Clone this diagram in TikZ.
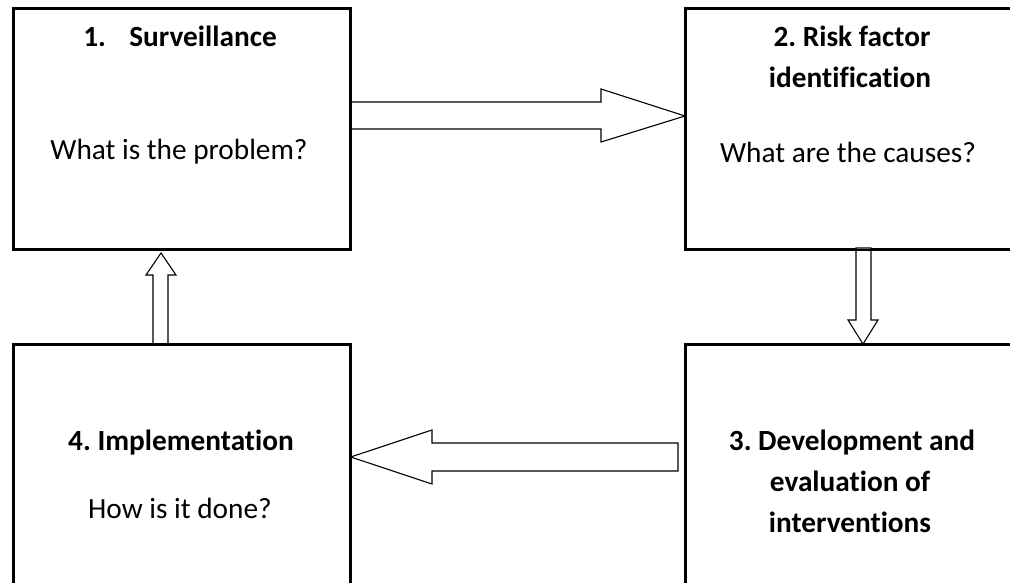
\documentclass[tikz,border=0pt]{standalone}
\usepackage{fontspec}
\setmainfont[Ligatures=NoCommon]{Carlito}
\frenchspacing
\begin{document}
\begin{tikzpicture}[x=1pt,y=-1pt,
  box/.style={draw=black,line width=1.7pt,fill=none,inner sep=0pt,anchor=north west},
  blockarrow/.style={draw=black,line width=1.1pt,fill=white,line join=miter},
  ttl/.style={font=\fontsize{29.3}{33}\selectfont\bfseries,anchor=base,inner sep=0pt},
  txt/.style={font=\fontsize{29.3}{33}\selectfont,anchor=base,inner sep=0pt}]
\useasboundingbox (0,0) rectangle (1010,583);
\clip (0,0) rectangle (1010,583);
% boxes
\node[box,minimum width=336pt,minimum height=240pt] (b1) at (13,8) {};
\node[box,minimum width=332pt,minimum height=240pt] (b2) at (685,8) {};
\node[box,minimum width=332pt,minimum height=260pt] (b3) at (685,344) {};
\node[box,minimum width=336pt,minimum height=260pt] (b4) at (13,344) {};
% texts
\node[ttl] (t1) at (180,47) {1.\hspace{0.8em}Surveillance};
\node[txt] (q1) at (179,160) {What is the problem?};
\node[ttl] (t2a) at (852,47) {2. Risk factor};
\node[ttl] (t2b) at (850,88) {identification};
\node[txt] (q2) at (848,163) {What are the causes?};
\node[ttl] (t3a) at (852,450) {3. Development and};
\node[ttl] (t3b) at (850,491) {evaluation of};
\node[ttl] (t3c) at (850,532) {interventions};
\node[ttl] (t4) at (181,450) {4. Implementation};
\node[txt] (q4) at (180,518) {How is it done?};
% arrows
\draw[blockarrow] (b1.east |- 0,102) -- (601,102) -- (601,89) -- (b2.west |- 0,116) -- (601,142) -- (601,129) -- (b1.east |- 0,129) -- cycle;
\draw[blockarrow] (856,248) -- (856,320) -- (848,320) -- (863,344) -- (878,320) -- (871,320) -- (871,248) -- cycle;
\draw[blockarrow] (678,443) -- (432,443) -- (432,430) -- (b4.east |- 0,457) -- (432,484) -- (432,471) -- (678,471) -- cycle;
\draw[blockarrow] (153,344) -- (153,275) -- (146,275) -- (161,253) -- (176,275) -- (168,275) -- (168,344) -- cycle;
% redraw box borders over arrow ends
\draw[line width=1.7pt] (b1.north west) rectangle (b1.south east);
\draw[line width=1.7pt] (b2.north west) rectangle (b2.south east);
\draw[line width=1.7pt] (b3.north west) rectangle (b3.south east);
\draw[line width=1.7pt] (b4.north west) rectangle (b4.south east);
\end{tikzpicture}
\end{document}
